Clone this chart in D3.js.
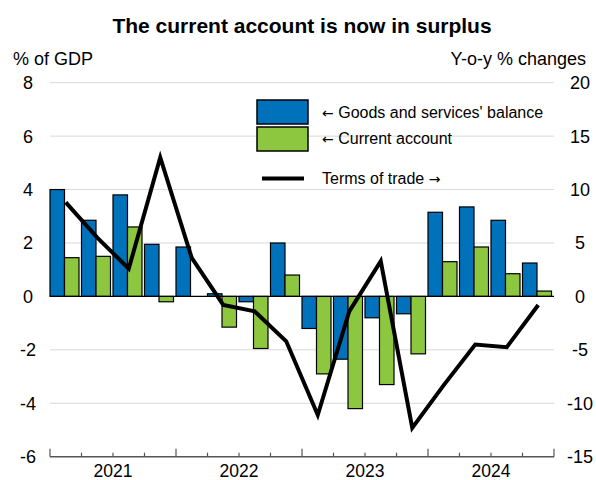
<!DOCTYPE html>
<html>
<head>
<meta charset="utf-8">
<script src="https://cdn.jsdelivr.net/npm/d3@7"></script>
<style>
  body { margin: 0; background: #fff; }
  svg text { font-family: "Liberation Sans", Arial, sans-serif; fill: #000; }
  .arr { font-family: "DejaVu Sans", sans-serif; }
</style>
</head>
<body>
<div id="chart-area"></div>
<script>
// quarters 2021Q1 - 2024Q4
let quarters = ["2021Q1", "2021Q2", "2021Q3", "2021Q4",
                "2022Q1", "2022Q2", "2022Q3", "2022Q4",
                "2023Q1", "2023Q2", "2023Q3", "2023Q4",
                "2024Q1", "2024Q2", "2024Q3", "2024Q4"]
let years = ["2021", "2022", "2023", "2024"]

// % of GDP (left axis)
let goodsServices = [4.0, 2.85, 3.8, 1.95, 1.85, 0.1, -0.2, 2.0,
                     -1.2, -2.35, -0.8, -0.65, 3.15, 3.35, 2.85, 1.25]
let currentAccount = [1.45, 1.5, 2.6, -0.2, 0.0, -1.15, -1.95, 0.8,
                      -2.9, -4.2, -3.3, -2.15, 1.3, 1.85, 0.85, 0.2]

// y-o-y % change (right axis)
let termsOfTrade = [8.8, 5.5, 2.6, 13.0, 3.6, -0.8, -1.4, -4.2,
                    -11.1, -1.4, 3.3, -12.3, -8.3, -4.5, -4.75, -0.8]

let leftTicks = [8, 6, 4, 2, 0, -2, -4, -6]
let rightTicks = [20, 15, 10, 5, 0, -5, -10, -15]

let blue = "#0072bc"
let green = "#8dc63f"

let W = 596, H = 480
let pLeft = 50, pRight = 554, pTop = 82.7, pBottom = 456.7

let svg = d3.select("#chart-area").append("svg")
            .attr("width", W)
            .attr("height", H)

let x = d3.scaleBand().domain(quarters).range([pLeft, pRight]).padding(0)
let xYear = d3.scaleBand().domain(years).range([pLeft, pRight])
let yL = d3.scaleLinear().domain([-6, 8]).range([pBottom, pTop])
let yR = d3.scaleLinear().domain([-15, 20]).range([pBottom, pTop])

// grid
svg.append("g").selectAll("line")
   .data(leftTicks.filter(d => d != 0 && d != -6))
   .enter().append("line")
   .attr("x1", pLeft).attr("x2", pRight)
   .attr("y1", d => yL(d)).attr("y2", d => yL(d))
   .attr("stroke", "#d9d9d9").attr("stroke-width", 1)

// bars
let x1 = d3.scaleBand().domain(["gs", "ca"]).range([0, x.bandwidth() - 2.5])
let series = [{key: "gs", vals: goodsServices, col: blue},
              {key: "ca", vals: currentAccount, col: green}]

series.forEach(s => {
  svg.append("g").selectAll("rect")
     .data(s.vals)
     .enter().append("rect")
     .attr("x", (d, i) => x(quarters[i]) + x1(s.key))
     .attr("y", d => yL(Math.max(0, d)))
     .attr("width", x1.bandwidth())
     .attr("height", d => Math.abs(yL(d) - yL(0)))
     .attr("fill", s.col)
     .attr("stroke", "#000")
     .attr("stroke-width", 1.2)
})

// zero line
svg.append("line")
   .attr("x1", pLeft).attr("x2", pRight)
   .attr("y1", yL(0)).attr("y2", yL(0))
   .attr("stroke", "#000").attr("stroke-width", 1.2)

// terms of trade line
let line = d3.line()
             .x((d, i) => x(quarters[i]) + x.bandwidth() / 2)
             .y(d => yR(d))
svg.append("path")
   .datum(termsOfTrade)
   .attr("d", line)
   .attr("fill", "none")
   .attr("stroke", "#000")
   .attr("stroke-width", 4)
   .attr("stroke-linejoin", "miter")

// x axis with ticks pointing up
let xAxis = svg.append("g")
xAxis.append("line")
     .attr("x1", pLeft).attr("x2", pRight)
     .attr("y1", pBottom).attr("y2", pBottom)
     .attr("stroke", "#555").attr("stroke-width", 1.5)
let tickPos = quarters.map(q => x(q)).concat([pRight])
xAxis.selectAll("line.tick")
     .data(tickPos)
     .enter().append("line")
     .attr("class", "tick")
     .attr("x1", d => d).attr("x2", d => d)
     .attr("y1", pBottom)
     .attr("y2", (d, i) => i % 4 == 0 ? pBottom - 8 : pBottom - 4)
     .attr("stroke", "#555").attr("stroke-width", 1.2)
xAxis.selectAll("text")
     .data(years)
     .enter().append("text")
     .attr("x", d => xYear(d) + xYear.bandwidth() / 2)
     .attr("y", 477)
     .attr("text-anchor", "middle")
     .attr("font-size", 17.5)
     .text(d => d)

// y tick labels
svg.append("g").selectAll("text")
   .data(leftTicks)
   .enter().append("text")
   .attr("x", 28)
   .attr("y", d => yL(d) + 6.4)
   .attr("text-anchor", "middle")
   .attr("font-size", 18)
   .text(d => d)
svg.append("g").selectAll("text")
   .data(rightTicks)
   .enter().append("text")
   .attr("x", 580)
   .attr("y", d => yR(d) + 6.4)
   .attr("text-anchor", "middle")
   .attr("font-size", 18)
   .text(d => d)

// titles
svg.append("text")
   .attr("x", 302).attr("y", 33)
   .attr("text-anchor", "middle")
   .attr("font-size", 21).attr("font-weight", "bold")
   .text("The current account is now in surplus")
svg.append("text")
   .attr("x", 13).attr("y", 65)
   .attr("font-size", 18)
   .text("% of GDP")
svg.append("text")
   .attr("x", 586).attr("y", 65)
   .attr("text-anchor", "end")
   .attr("font-size", 18)
   .text("Y-o-y % changes")

// legend
let lg = svg.append("g")
lg.append("rect").attr("x", 257).attr("y", 100).attr("width", 51).attr("height", 24)
  .attr("fill", blue).attr("stroke", "#000").attr("stroke-width", 1.5)
lg.append("rect").attr("x", 257).attr("y", 127).attr("width", 51).attr("height", 24)
  .attr("fill", green).attr("stroke", "#000").attr("stroke-width", 1.5)
lg.append("line").attr("x1", 262).attr("x2", 304).attr("y1", 178.5).attr("y2", 178.5)
  .attr("stroke", "#000").attr("stroke-width", 4)

let legendText = [["\u2190", " Goods and services' balance"], ["\u2190", " Current account"], ["Terms of trade ", "\u2192"]]
let legendY = [117.5, 144, 184]
legendText.forEach((parts, i) => {
  let t = lg.append("text")
            .attr("x", 322)
            .attr("y", legendY[i])
            .attr("font-size", 16)
  parts.forEach(p => {
    let span = t.append("tspan").text(p)
    if (p == "\u2190" || p == "\u2192") span.attr("class", "arr").attr("font-size", 14)
  })
})
</script>
</body>
</html>
